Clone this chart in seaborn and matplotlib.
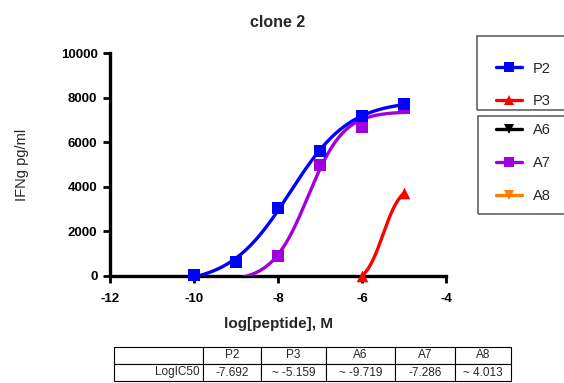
import numpy as np
import pandas as pd
import matplotlib
matplotlib.use("Agg")
import matplotlib.pyplot as plt
import seaborn as sns
from matplotlib.lines import Line2D
from matplotlib.patches import Rectangle

# ---------------- data ----------------
series = ["P2", "P3", "A6", "A7", "A8"]
colors = ["#0000FF", "#FF0000", "#000000", "#A000DC", "#FF8000"]
markers = ["s", "^", "v", "s", "v"]

p2_logdose = [-10, -9, -8, -7, -6, -5]
p2_ifng = [40, 650, 3050, 5600, 7170, 7710]

p3_logdose = [-6, -5]
p3_ifng = [0, 3720]

a6_logdose = []
a6_ifng = []

a7_logdose = [-8, -7, -6, -5]
a7_ifng = [900, 4980, 6680, 7550]

a8_logdose = []
a8_ifng = []

log_ic50_labels = ["-7.692", "~ -5.159", "~ -9.719", "-7.286", "~ 4.013"]
a7_log_ic50 = -7.286

# P3 curve parameters (bottom, top, logIC50, hill)
p3_curve_params = [-413, 4135, -5.5, 2.0]

x_ticks = [-12, -10, -8, -6, -4]
y_ticks = [0, 2000, 4000, 6000, 8000, 10000]


def four_pl(x, bottom, top, log_ic50, hill):
    x = np.asarray(x, dtype=float)
    return bottom + (top - bottom) / (1 + 10 ** ((log_ic50 - x) * hill))


def fit_four_pl(x, y, l_grid, h_grid):
    x = np.asarray(x, float)
    y = np.asarray(y, float)
    L, H = np.meshgrid(np.asarray(l_grid, float), np.asarray(h_grid, float), indexing="ij")
    f = 1 / (1 + 10 ** ((L[..., None] - x) * H[..., None]))
    fm = f.mean(-1)
    ym = y.mean()
    cov = ((f - fm[..., None]) * (y - ym)).sum(-1)
    var = ((f - fm[..., None]) ** 2).sum(-1)
    s = cov / var
    b = ym - s * fm
    res = ((b[..., None] + s[..., None] * f - y) ** 2).sum(-1)
    i = np.unravel_index(np.argmin(res), res.shape)
    return b[i], b[i] + s[i], L[i], H[i]


p2_params = fit_four_pl(p2_logdose, p2_ifng, np.arange(-9, -6, 0.005), np.arange(0.3, 3, 0.01))
a7_params = fit_four_pl(a7_logdose, a7_ifng, [a7_log_ic50], np.arange(0.3, 4, 0.005))

# ---------------- figure ----------------
sns.set_style("ticks")
plt.rcParams["font.family"] = ["Liberation Sans", "DejaVu Sans"]

W, Hh = 564, 383
fig = plt.figure(figsize=(W / 100, Hh / 100), dpi=100)
ax = fig.add_axes([110 / W, 1 - 276 / Hh, 336 / W, 223 / Hh])

curves = [
    ("A7", a7_params, (-10, -5)),
    ("P2", p2_params, (-10, -5)),
    ("P3", p3_curve_params, (-6, -5)),
]
for name, params, (lo, hi) in curves:
    i = series.index(name)
    xs = np.linspace(lo, hi, 400)
    ys = four_pl(xs, *params)
    sns.lineplot(x=xs, y=ys, color=colors[i], lw=2.4, ax=ax, estimator=None, zorder=3)

points = [("A7", a7_logdose, a7_ifng), ("P2", p2_logdose, p2_ifng),
          ("P3", p3_logdose, p3_ifng), ("A6", a6_logdose, a6_ifng), ("A8", a8_logdose, a8_ifng)]
for name, xd, yd in points:
    if len(xd) == 0:
        continue
    i = series.index(name)
    sns.scatterplot(x=xd, y=yd, marker=markers[i], s=70, color=colors[i],
                    linewidth=0, ax=ax, clip_on=False, zorder=5)

ax.set_xlim(-12, -4)
ax.set_ylim(0, 10000)
ax.set_xticks(x_ticks)
ax.set_xticklabels([str(t) for t in x_ticks], fontweight="bold", fontsize=9.5)
ax.set_yticks(y_ticks)
ax.set_yticklabels([str(t) for t in y_ticks], fontweight="bold", fontsize=9.5)
ax.tick_params(axis="both", direction="out", length=5, width=2, colors="black")
ax.tick_params(axis="x", pad=7)
ax.tick_params(axis="y", pad=4)
for sp in ["top", "right"]:
    ax.spines[sp].set_visible(False)
for sp in ["left", "bottom"]:
    ax.spines[sp].set_linewidth(2.4)
    ax.spines[sp].set_color("black")

ax.set_xlabel("log[peptide], M", fontsize=11, fontweight="bold")
ax.xaxis.set_label_coords(0.5, -(317 - 276) / 223)
ax.set_ylabel("IFNg pg/ml", fontsize=10.5)
ax.yaxis.set_label_coords(-(110 - 29) / 336, 0.5)
ax.set_title("clone 2", fontsize=11.5, fontweight="bold", pad=19)

# legends
handles = [Line2D([0], [0], color=c, marker=m, lw=2.4, markersize=7, markeredgewidth=0)
           for c, m in zip(colors, markers)]
leg_kw = dict(frameon=False, fontsize=10.5, handlelength=1.75, handletextpad=0.8,
              borderpad=0, borderaxespad=0, loc="center left")
leg1 = fig.legend(handles[:2], series[:2], bbox_to_anchor=(496 / W, 1 - 85 / Hh),
                  labelspacing=1.3, **leg_kw)
leg2 = fig.legend(handles[2:], series[2:], bbox_to_anchor=(496 / W, 1 - 163 / Hh),
                  labelspacing=1.3, **leg_kw)
fig.add_artist(Rectangle((477 / W, 1 - 110 / Hh), 0.3, 74 / Hh, transform=fig.transFigure,
                         fill=False, ec="#555555", lw=1.1))
fig.add_artist(Rectangle((478 / W, 1 - 214 / Hh), 0.3, 98 / Hh, transform=fig.transFigure,
                         fill=False, ec="#555555", lw=1.1))

# table
tax = fig.add_axes([114 / W, 2 / Hh, (511 - 114) / W, (381 - 347) / Hh])
tax.axis("off")
col_w = np.array([89, 58, 65, 69, 60, 56], float)
col_w = col_w / col_w.sum()
tbl = tax.table(cellText=[["LogIC50"] + log_ic50_labels], colLabels=[""] + series,
                colWidths=list(col_w), bbox=[0, 0, 1, 1], cellLoc="center")
tbl.auto_set_font_size(False)
for (r, c), cell in tbl.get_celld().items():
    cell.set_linewidth(0.8)
    cell.set_edgecolor("black")
    cell.get_text().set_fontsize(8.5)
    if c == 0:
        cell.get_text().set_ha("right")
        cell.PAD = 0.04

fig.savefig("out.png", dpi=100)
